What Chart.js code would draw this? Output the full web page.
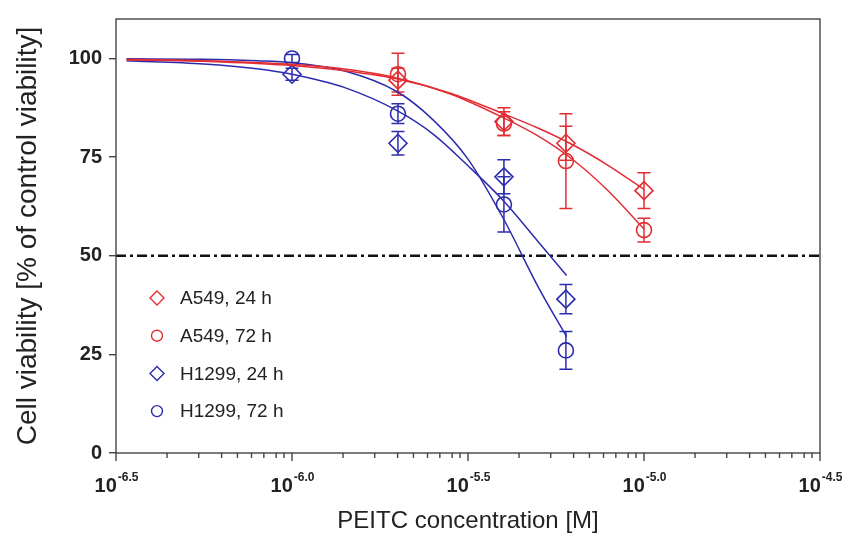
<!DOCTYPE html>
<html>
<head>
<meta charset="utf-8">
<script src="https://cdn.jsdelivr.net/npm/chart.js@4/dist/chart.umd.min.js"></script>
<style>
  html, body { margin: 0; padding: 0; background: #fff; }
</style>
</head>
<body>
<canvas id="chart" width="852" height="540"></canvas>
<script>
const RED = "#e22d33";
const BLUE = "#2c2cae";
const FONT = "Arial, 'Liberation Sans', sans-serif";

// measured points, concentration in µM
const conc = [1, 2, 4, 6, 10];
const seriesNames = ["A549, 24 h", "A549, 72 h", "H1299, 24 h", "H1299, 72 h"];
const a549_24 = [null, 94.5, 84, 78.5, 66.5];
const a549_24_sd = [null, 3, 3.5, 4.3, 4.5];
const a549_72 = [null, 96, 83.5, 74, 56.5];
const a549_72_sd = [null, 5.3, 3, 12, 3];
const h1299_24 = [96, 78.5, 70, 39, null];
const h1299_24_sd = [1.5, 3, 4.3, 3.7, null];
const h1299_72 = [100, 86, 63, 26, null];
const h1299_72_sd = [1, 2.5, 7, 4.8, null];

// fitted curves, x = log10 of molar concentration
const redCurveX = [-6.47, -6.2, -6.0, -5.85, -5.7, -5.55, -5.4, -5.3, -5.2, -5.1, -5.0];
const a549_24_fit = [99.7, 99.1, 98.2, 96.9, 94.8, 91.2, 86.0, 82.3, 78.0, 72.8, 66.8];
const a549_72_fit = [99.8, 99.3, 98.5, 97.3, 95.0, 91.0, 85.0, 80.3, 74.2, 66.3, 56.8];
const blueCurveX = [-6.47, -6.25, -6.1, -6.0, -5.85, -5.7, -5.6, -5.5, -5.4, -5.3, -5.22];
const h1299_24_fit = [99.4, 98.6, 97.4, 96.0, 92.6, 86.7, 80.9, 72.8, 64.0, 53.5, 45.0];
const h1299_72_fit = [99.9, 99.8, 99.4, 98.9, 96.8, 91.5, 84.5, 74.5, 59.5, 42.0, 29.5];

const halfLine = 50;
const yTicks = [0, 25, 50, 75, 100];
const xMajorExp = [-6.5, -6.0, -5.5, -5.0, -4.5];
// minor tick spots inside each half decade, as a fraction of it
const xMinorFrac = [0.29, 0.47, 0.60, 0.69, 0.77, 0.84, 0.91, 0.955];

const series = [
  { name: seriesNames[0], color: RED, style: "diamond", mean: a549_24, sd: a549_24_sd },
  { name: seriesNames[1], color: RED, style: "circle", mean: a549_72, sd: a549_72_sd },
  { name: seriesNames[2], color: BLUE, style: "diamond", mean: h1299_24, sd: h1299_24_sd },
  { name: seriesNames[3], color: BLUE, style: "circle", mean: h1299_72, sd: h1299_72_sd }
];
const curves = [
  { x: redCurveX, y: a549_24_fit, color: RED },
  { x: redCurveX, y: a549_72_fit, color: RED },
  { x: blueCurveX, y: h1299_24_fit, color: BLUE },
  { x: blueCurveX, y: h1299_72_fit, color: BLUE }
];

let datasets = [];
for (let i = 0; i < curves.length; i++) {
  let pts = [];
  for (let j = 0; j < curves[i].x.length; j++) {
    pts.push({ x: Math.pow(10, curves[i].x[j]), y: curves[i].y[j] });
  }
  datasets.push({
    data: pts, showLine: true, borderColor: curves[i].color, borderWidth: 1.5,
    pointRadius: 0, cubicInterpolationMode: "monotone"
  });
}
datasets.push({
  data: [{ x: Math.pow(10, -6.5), y: halfLine }, { x: Math.pow(10, -4.5), y: halfLine }],
  showLine: true, borderColor: "#111", borderWidth: 2.5, borderDash: [10, 4, 3, 4], pointRadius: 0
});
for (let i = 0; i < series.length; i++) {
  let pts = [];
  for (let j = 0; j < conc.length; j++) {
    if (series[i].mean[j] === null) continue;
    pts.push({ x: conc[j] * 1e-6, y: series[i].mean[j] });
  }
  datasets.push({
    label: series[i].name, data: pts, showLine: false,
    pointStyle: series[i].style === "diamond" ? "rectRot" : "circle",
    pointRadius: series[i].style === "diamond" ? 9 : 7.5,
    pointBorderWidth: 1.6, borderColor: series[i].color,
    pointBorderColor: series[i].color, pointBackgroundColor: "rgba(0,0,0,0)"
  });
}

function marker(ctx, style, x, y, r) {
  ctx.beginPath();
  if (style === "diamond") {
    ctx.moveTo(x, y - r); ctx.lineTo(x + r, y); ctx.lineTo(x, y + r); ctx.lineTo(x - r, y);
    ctx.closePath();
  } else {
    ctx.arc(x, y, r, 0, Math.PI * 2);
  }
  ctx.stroke();
}

const extras = {
  id: "extras",
  beforeDatasetsDraw(chart) {
    const ctx = chart.ctx, xs = chart.scales.x, ys = chart.scales.y;
    ctx.save();
    ctx.lineWidth = 1.5;
    for (let i = 0; i < series.length; i++) {
      ctx.strokeStyle = series[i].color;
      for (let j = 0; j < conc.length; j++) {
        let m = series[i].mean[j];
        if (m === null) continue;
        let px = xs.getPixelForValue(conc[j] * 1e-6);
        let top = ys.getPixelForValue(m + series[i].sd[j]);
        let bot = ys.getPixelForValue(m - series[i].sd[j]);
        ctx.beginPath();
        ctx.moveTo(px, top); ctx.lineTo(px, bot);
        ctx.moveTo(px - 6.5, top); ctx.lineTo(px + 6.5, top);
        ctx.moveTo(px - 6.5, bot); ctx.lineTo(px + 6.5, bot);
        ctx.stroke();
      }
    }
    ctx.restore();
  },
  afterDraw(chart) {
    const ctx = chart.ctx, xs = chart.scales.x, a = chart.chartArea;
    ctx.save();
    // frame
    ctx.strokeStyle = "#444";
    ctx.lineWidth = 1.4;
    ctx.strokeRect(a.left, a.top, a.right - a.left, a.bottom - a.top);

    // x ticks
    ctx.beginPath();
    for (let i = 0; i < xMajorExp.length; i++) {
      let px = xs.getPixelForValue(Math.pow(10, xMajorExp[i]));
      ctx.moveTo(px, a.bottom); ctx.lineTo(px, a.bottom + 8);
      if (i === xMajorExp.length - 1) break;
      for (let k = 0; k < xMinorFrac.length; k++) {
        let mx = xs.getPixelForValue(Math.pow(10, xMajorExp[i] + 0.5 * xMinorFrac[k]));
        ctx.moveTo(mx, a.bottom); ctx.lineTo(mx, a.bottom + 5);
      }
    }
    ctx.stroke();

    // x tick labels, 10 with superscript exponent
    ctx.fillStyle = "#222";
    ctx.textBaseline = "alphabetic";
    ctx.textAlign = "left";
    for (let i = 0; i < xMajorExp.length; i++) {
      let px = xs.getPixelForValue(Math.pow(10, xMajorExp[i]));
      let sup = xMajorExp[i].toFixed(1);
      ctx.font = "bold 20px " + FONT;
      let wb = ctx.measureText("10").width;
      ctx.font = "bold 12px " + FONT;
      let ws = ctx.measureText(sup).width;
      let start = px - (wb + ws) / 2;
      ctx.font = "bold 20px " + FONT;
      ctx.fillText("10", start, a.bottom + 39);
      ctx.font = "bold 12px " + FONT;
      ctx.fillText(sup, start + wb + 1, a.bottom + 28);
    }

    // legend
    ctx.font = "19px " + FONT;
    ctx.textBaseline = "middle";
    ctx.lineWidth = 1.4;
    for (let i = 0; i < series.length; i++) {
      let y = 298 + i * 37.7;
      ctx.strokeStyle = series[i].color;
      marker(ctx, series[i].style, 157, y, series[i].style === "diamond" ? 7 : 5.5);
      ctx.fillStyle = "#222";
      ctx.fillText(series[i].name, 180, y + 1);
    }
    ctx.restore();
  }
};

new Chart(document.getElementById("chart"), {
  type: "scatter",
  data: { datasets: datasets },
  plugins: [extras],
  options: {
    responsive: false,
    animation: false,
    events: [],
    layout: { padding: { top: 16, right: 32, left: 0, bottom: 0 } },
    plugins: { legend: { display: false }, tooltip: { enabled: false } },
    scales: {
      x: {
        type: "logarithmic",
        min: Math.pow(10, -6.5),
        max: Math.pow(10, -4.5),
        afterFit: function (s) { s.height = 87; },
        grid: { display: false },
        border: { display: false },
        ticks: { display: false },
        title: {
          display: true, text: "PEITC concentration [M]", color: "#222",
          font: { size: 24, family: FONT }, padding: { top: 0, bottom: 4 }
        }
      },
      y: {
        min: 0,
        max: 110,
        afterBuildTicks: function (s) {
          s.ticks = yTicks.map(function (v) { return { value: v }; });
        },
        afterFit: function (s) { s.width = 116; },
        grid: { drawOnChartArea: false, tickLength: 7, color: "#444", lineWidth: 1.4 },
        border: { display: false },
        ticks: { color: "#222", padding: 7, font: { size: 20, weight: "bold", family: FONT } },
        title: {
          display: true, text: "Cell viability [% of control viability]", color: "#222",
          font: { size: 28, family: FONT }, padding: { top: 11, bottom: 0 }
        }
      }
    }
  }
});
</script>
</body>
</html>
